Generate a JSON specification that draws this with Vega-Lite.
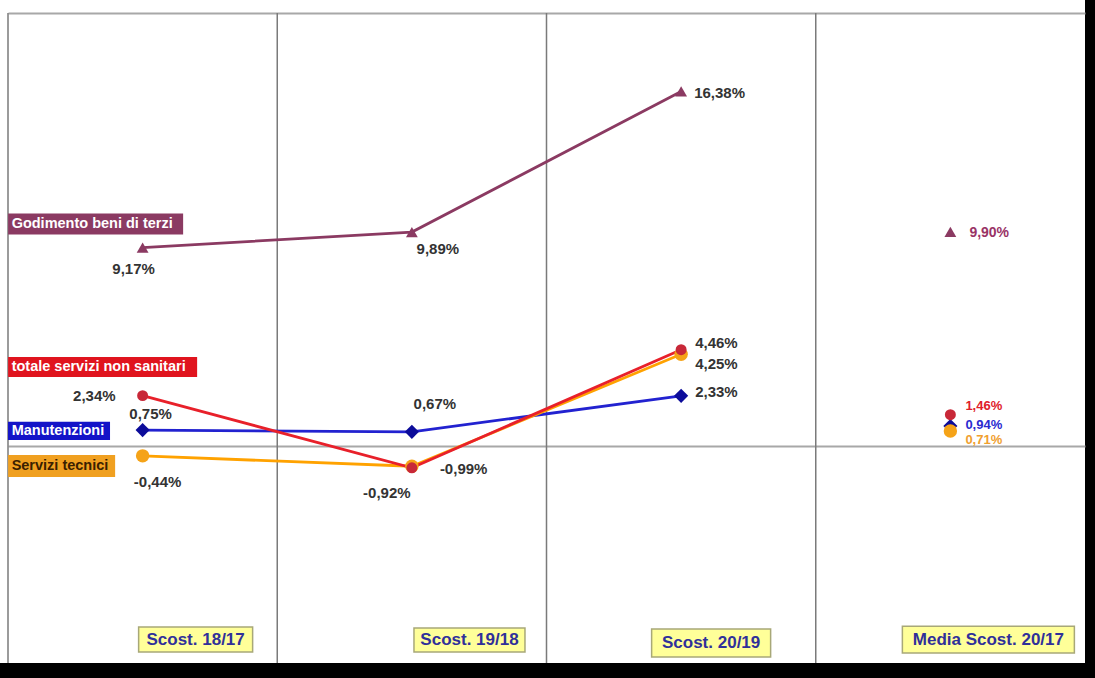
{
  "$schema": "https://vega.github.io/schema/vega-lite/v6.json",
  "width": 1085,
  "height": 663,
  "autosize": "none",
  "padding": {"left": 0, "top": 0, "right": 10, "bottom": 15},
  "background": "black",
  "config": {
    "view": {"fill": "white", "stroke": null},
    "text": {"font": "Liberation Sans", "fontWeight": "bold", "baseline": "middle"}
  },
  "data": {"values": [
      {"series": "Godimento beni di terzi", "cat": "Scost. 18/17", "v": 9.17},
      {"series": "Godimento beni di terzi", "cat": "Scost. 19/18", "v": 9.89},
      {"series": "Godimento beni di terzi", "cat": "Scost. 20/19", "v": 16.38},
      {"series": "Godimento beni di terzi", "cat": "Media Scost. 20/17", "v": 9.90},
      {"series": "Manutenzioni", "cat": "Scost. 18/17", "v": 0.75},
      {"series": "Manutenzioni", "cat": "Scost. 19/18", "v": 0.67},
      {"series": "Manutenzioni", "cat": "Scost. 20/19", "v": 2.33},
      {"series": "Manutenzioni", "cat": "Media Scost. 20/17", "v": 0.94},
      {"series": "Servizi tecnici", "cat": "Scost. 18/17", "v": -0.44},
      {"series": "Servizi tecnici", "cat": "Scost. 19/18", "v": -0.92},
      {"series": "Servizi tecnici", "cat": "Scost. 20/19", "v": 4.25},
      {"series": "Servizi tecnici", "cat": "Media Scost. 20/17", "v": 0.71},
      {"series": "totale servizi non sanitari", "cat": "Scost. 18/17", "v": 2.34},
      {"series": "totale servizi non sanitari", "cat": "Scost. 19/18", "v": -0.99},
      {"series": "totale servizi non sanitari", "cat": "Scost. 20/19", "v": 4.46},
      {"series": "totale servizi non sanitari", "cat": "Media Scost. 20/17", "v": 1.46}
  ]},
  "transform": [
    {"calculate": "replace(replace(format(datum.v, '.2f'), '.', ','), '\u2212', '-') + '%'", "as": "lab"}
  ],
  "encoding": {
    "x": {
      "field": "cat", "type": "nominal", "sort": null,
      "scale": {"type": "band", "domain": ["Scost. 18/17", "Scost. 19/18", "Scost. 20/19", "Media Scost. 20/17"], "range": [8, 1085], "paddingInner": 0, "paddingOuter": 0},
      "axis": null
    },
    "y": {
      "field": "v", "type": "quantitative",
      "scale": {"domain": [-10, 20], "range": [663, 13], "nice": false, "zero": false},
      "axis": {"title": null, "labels": false, "ticks": false, "domain": false, "grid": true, "values": [0, 20], "gridColor": "#a8a8a8", "gridWidth": 2}
    }
  },
  "layer": [
    {
      "transform": [{"filter": "datum.series == 'Manutenzioni'"}],
      "mark": {"type": "rule", "color": "#7a7a7a", "strokeWidth": 1.5},
      "encoding": {"x": {"field": "cat", "type": "nominal", "bandPosition": 0}, "y": {"datum": 20}, "y2": {"datum": -10}}
    },
    {
      "transform": [{"filter": "datum.cat != 'Media Scost. 20/17'"}],
      "mark": {"type": "line", "strokeWidth": 2.8},
      "encoding": {
        "color": {"field": "series", "type": "nominal", "legend": null,
          "scale": {"domain": ["Godimento beni di terzi", "Manutenzioni", "Servizi tecnici", "totale servizi non sanitari"], "range": ["#8b3a62", "#2222d0", "#ffa200", "#e8202a"]}}
      }
    },
    {"transform": [{"filter": "datum.series == 'Godimento beni di terzi'"}], "mark": {"type": "point", "shape": "triangle-up", "filled": true, "size": 140, "color": "#8b3a62", "opacity": 1}},
    {"transform": [{"filter": "datum.series == 'Manutenzioni'"}], "mark": {"type": "point", "shape": "diamond", "filled": true, "size": 200, "color": "#0c0c9a", "opacity": 1}},
    {"transform": [{"filter": "datum.series == 'Servizi tecnici'"}], "mark": {"type": "point", "shape": "circle", "filled": true, "size": 180, "color": "#f5a318", "opacity": 1}},
    {"transform": [{"filter": "datum.series == 'totale servizi non sanitari'"}], "mark": {"type": "point", "shape": "circle", "filled": true, "size": 120, "color": "#c82838", "opacity": 1}},

    {"transform": [{"filter": "datum.series == 'Godimento beni di terzi' && datum.cat == 'Scost. 18/17'"}], "mark": {"type": "text", "fontSize": 15, "color": "#333333", "align": "center", "dx": -9, "dy": 21}, "encoding": {"text": {"field": "lab"}}},
    {"transform": [{"filter": "datum.series == 'Godimento beni di terzi' && datum.cat == 'Scost. 19/18'"}], "mark": {"type": "text", "fontSize": 15, "color": "#333333", "align": "center", "dx": 26, "dy": 17}, "encoding": {"text": {"field": "lab"}}},
    {"transform": [{"filter": "datum.series == 'Godimento beni di terzi' && datum.cat == 'Scost. 20/19'"}], "mark": {"type": "text", "fontSize": 15, "color": "#333333", "align": "left", "dx": 13, "dy": 2}, "encoding": {"text": {"field": "lab"}}},
    {"transform": [{"filter": "datum.series == 'Godimento beni di terzi' && datum.cat == 'Media Scost. 20/17'"}], "mark": {"type": "text", "fontSize": 14, "color": "#993366", "align": "left", "dx": 19, "dy": 1}, "encoding": {"text": {"field": "lab"}}},

    {"transform": [{"filter": "datum.series == 'totale servizi non sanitari' && datum.cat == 'Scost. 18/17'"}], "mark": {"type": "text", "fontSize": 15, "color": "#333333", "align": "right", "dx": -27, "dy": 0}, "encoding": {"text": {"field": "lab"}}},
    {"transform": [{"filter": "datum.series == 'totale servizi non sanitari' && datum.cat == 'Scost. 19/18'"}], "mark": {"type": "text", "fontSize": 15, "color": "#333333", "align": "left", "dx": 28, "dy": 1}, "encoding": {"text": {"field": "lab"}}},
    {"transform": [{"filter": "datum.series == 'totale servizi non sanitari' && datum.cat == 'Scost. 20/19'"}], "mark": {"type": "text", "fontSize": 15, "color": "#333333", "align": "left", "dx": 14, "dy": -7}, "encoding": {"text": {"field": "lab"}}},
    {"transform": [{"filter": "datum.series == 'totale servizi non sanitari' && datum.cat == 'Media Scost. 20/17'"}], "mark": {"type": "text", "fontSize": 13, "color": "#e0202a", "align": "left", "dx": 15, "dy": -9}, "encoding": {"text": {"field": "lab"}}},

    {"transform": [{"filter": "datum.series == 'Manutenzioni' && datum.cat == 'Scost. 18/17'"}], "mark": {"type": "text", "fontSize": 15, "color": "#333333", "align": "center", "dx": 8, "dy": -16}, "encoding": {"text": {"field": "lab"}}},
    {"transform": [{"filter": "datum.series == 'Manutenzioni' && datum.cat == 'Scost. 19/18'"}], "mark": {"type": "text", "fontSize": 15, "color": "#333333", "align": "center", "dx": 23, "dy": -28}, "encoding": {"text": {"field": "lab"}}},
    {"transform": [{"filter": "datum.series == 'Manutenzioni' && datum.cat == 'Scost. 20/19'"}], "mark": {"type": "text", "fontSize": 15, "color": "#333333", "align": "left", "dx": 14, "dy": -4}, "encoding": {"text": {"field": "lab"}}},
    {"transform": [{"filter": "datum.series == 'Manutenzioni' && datum.cat == 'Media Scost. 20/17'"}], "mark": {"type": "text", "fontSize": 13, "color": "#2a2ad0", "align": "left", "dx": 15, "dy": -1}, "encoding": {"text": {"field": "lab"}}},

    {"transform": [{"filter": "datum.series == 'Servizi tecnici' && datum.cat == 'Scost. 18/17'"}], "mark": {"type": "text", "fontSize": 15, "color": "#333333", "align": "center", "dx": 15, "dy": 26}, "encoding": {"text": {"field": "lab"}}},
    {"transform": [{"filter": "datum.series == 'Servizi tecnici' && datum.cat == 'Scost. 19/18'"}], "mark": {"type": "text", "fontSize": 15, "color": "#333333", "align": "center", "dx": -25, "dy": 27}, "encoding": {"text": {"field": "lab"}}},
    {"transform": [{"filter": "datum.series == 'Servizi tecnici' && datum.cat == 'Scost. 20/19'"}], "mark": {"type": "text", "fontSize": 15, "color": "#333333", "align": "left", "dx": 14, "dy": 10}, "encoding": {"text": {"field": "lab"}}},
    {"transform": [{"filter": "datum.series == 'Servizi tecnici' && datum.cat == 'Media Scost. 20/17'"}], "mark": {"type": "text", "fontSize": 13, "color": "#f0a030", "align": "left", "dx": 15, "dy": 9}, "encoding": {"text": {"field": "lab"}}},

    {"transform": [{"filter": "datum.series == 'Godimento beni di terzi' && datum.cat == 'Scost. 18/17'"}], "mark": {"type": "bar", "width": 175, "xOffset": -47, "color": "#8b3a62"}, "encoding": {"y": {"datum": 10.75}, "y2": {"datum": 9.78}}},
    {"transform": [{"filter": "datum.series == 'Godimento beni di terzi' && datum.cat == 'Scost. 18/17'"}], "mark": {"type": "text", "fontSize": 14.5, "color": "white", "align": "left", "xOffset": -131}, "encoding": {"y": {"datum": 10.26}, "text": {"field": "series"}}},
    {"transform": [{"filter": "datum.series == 'totale servizi non sanitari' && datum.cat == 'Scost. 18/17'"}], "mark": {"type": "bar", "width": 189, "xOffset": -40, "color": "#e0141e"}, "encoding": {"y": {"datum": 4.12}, "y2": {"datum": 3.2}}},
    {"transform": [{"filter": "datum.series == 'totale servizi non sanitari' && datum.cat == 'Scost. 18/17'"}], "mark": {"type": "text", "fontSize": 14.5, "color": "white", "align": "left", "xOffset": -131}, "encoding": {"y": {"datum": 3.66}, "text": {"field": "series"}}},
    {"transform": [{"filter": "datum.series == 'Manutenzioni' && datum.cat == 'Scost. 18/17'"}], "mark": {"type": "bar", "width": 102, "xOffset": -83.6, "color": "#1414c8"}, "encoding": {"y": {"datum": 1.13}, "y2": {"datum": 0.29}}},
    {"transform": [{"filter": "datum.series == 'Manutenzioni' && datum.cat == 'Scost. 18/17'"}], "mark": {"type": "text", "fontSize": 14.5, "color": "white", "align": "left", "xOffset": -131}, "encoding": {"y": {"datum": 0.71}, "text": {"field": "series"}}},
    {"transform": [{"filter": "datum.series == 'Servizi tecnici' && datum.cat == 'Scost. 18/17'"}], "mark": {"type": "bar", "width": 107, "xOffset": -81, "color": "#f0a020"}, "encoding": {"y": {"datum": -0.4}, "y2": {"datum": -1.42}}},
    {"transform": [{"filter": "datum.series == 'Servizi tecnici' && datum.cat == 'Scost. 18/17'"}], "mark": {"type": "text", "fontSize": 14.5, "color": "#3a2000", "align": "left", "xOffset": -131}, "encoding": {"y": {"datum": -0.91}, "text": {"field": "series"}}},

    {"transform": [{"filter": "datum.series == 'Manutenzioni' && datum.cat == 'Scost. 18/17'"}], "mark": {"type": "bar", "width": 114, "xOffset": 53, "fill": "#ffff99", "stroke": "#a8a878", "strokeWidth": 1.5}, "encoding": {"y": {"datum": -8.34}, "y2": {"datum": -9.49}}},
    {"transform": [{"filter": "datum.series == 'Manutenzioni' && datum.cat == 'Scost. 18/17'"}], "mark": {"type": "text", "fontSize": 17, "color": "#30309a", "align": "center", "xOffset": 53}, "encoding": {"y": {"datum": -8.92}, "text": {"field": "cat"}}},
    {"transform": [{"filter": "datum.series == 'Manutenzioni' && datum.cat == 'Scost. 19/18'"}], "mark": {"type": "bar", "width": 111, "xOffset": 57.6, "fill": "#ffff99", "stroke": "#a8a878", "strokeWidth": 1.5}, "encoding": {"y": {"datum": -8.39}, "y2": {"datum": -9.49}}},
    {"transform": [{"filter": "datum.series == 'Manutenzioni' && datum.cat == 'Scost. 19/18'"}], "mark": {"type": "text", "fontSize": 17, "color": "#30309a", "align": "center", "xOffset": 57.6}, "encoding": {"y": {"datum": -8.94}, "text": {"field": "cat"}}},
    {"transform": [{"filter": "datum.series == 'Manutenzioni' && datum.cat == 'Scost. 20/19'"}], "mark": {"type": "bar", "width": 119, "xOffset": 30, "fill": "#ffff99", "stroke": "#a8a878", "strokeWidth": 1.5}, "encoding": {"y": {"datum": -8.43}, "y2": {"datum": -9.72}}},
    {"transform": [{"filter": "datum.series == 'Manutenzioni' && datum.cat == 'Scost. 20/19'"}], "mark": {"type": "text", "fontSize": 17, "color": "#30309a", "align": "center", "xOffset": 30}, "encoding": {"y": {"datum": -9.08}, "text": {"field": "cat"}}},
    {"transform": [{"filter": "datum.series == 'Manutenzioni' && datum.cat == 'Media Scost. 20/17'"}], "mark": {"type": "bar", "width": 172, "xOffset": 38, "fill": "#ffff99", "stroke": "#a8a878", "strokeWidth": 1.5}, "encoding": {"y": {"datum": -8.3}, "y2": {"datum": -9.54}}},
    {"transform": [{"filter": "datum.series == 'Manutenzioni' && datum.cat == 'Media Scost. 20/17'"}], "mark": {"type": "text", "fontSize": 17, "color": "#30309a", "align": "center", "xOffset": 38}, "encoding": {"y": {"datum": -8.92}, "text": {"field": "cat"}}}
  ]
}
